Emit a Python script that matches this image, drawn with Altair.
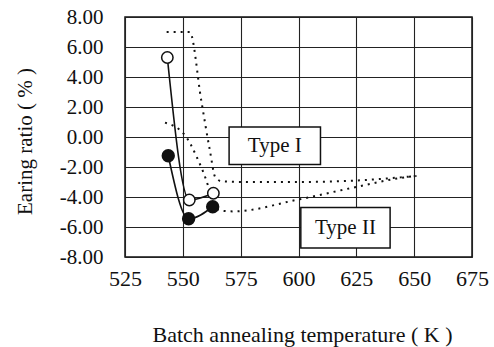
import altair as alt
import pandas as pd

# Solid series (measured points)
open_t = [543.3, 552.8, 563.2]
open_v = [5.3, -4.2, -3.75]
filled_t = [543.7, 552.5, 562.9]
filled_v = [-1.25, -5.45, -4.65]

# Dotted curves
type1_t = [543, 553, 558, 561.7, 564, 567, 580, 600, 625, 651]
type1_v = [7.0, 7.0, 2.4, -0.9, -2.67, -2.96, -3.0, -3.0, -2.9, -2.6]
type2_t = [542.3, 551, 556, 561, 563, 566, 572, 599, 625, 646.8, 651]
type2_v = [0.96, 0.1, -1.33, -3.3, -4.4, -4.9, -4.96, -4.2, -3.33, -2.67, -2.6]

# Label boxes
box_labels = ["Type I", "Type II"]
box_x1 = [570, 601]
box_x2 = [609.5, 639.6]
box_y1 = [0.67, -4.7]
box_y2 = [-1.84, -7.4]

x_ticks = [525, 550, 575, 600, 625, 650, 675]
y_ticks = [-8, -6, -4, -2, 0, 2, 4, 6, 8]

FONT = "Liberation Serif"

xs = alt.Scale(domain=[525, 675], nice=False, zero=False)
ys = alt.Scale(domain=[-8, 8], nice=False, zero=False)

df_open = pd.DataFrame({"t": open_t, "v": open_v})
df_filled = pd.DataFrame({"t": filled_t, "v": filled_v})
df_d1 = pd.DataFrame({"t": type1_t, "v": type1_v})
df_d2 = pd.DataFrame({"t": type2_t, "v": type2_v})
df_box = pd.DataFrame({"label": box_labels, "t": box_x1, "t2": box_x2,
                       "v": box_y1, "v2": box_y2})
df_box["tc"] = (df_box.t + df_box.t2) / 2
df_box["vc"] = (df_box.v + df_box.v2) / 2

xaxis = alt.Axis(values=x_ticks, grid=True, ticks=False, domain=False,
                 labelFont=FONT, labelFontSize=22, labelColor="#111", labelPadding=11,
                 labelOverlap=False,
                 title="Batch annealing temperature ( K )", titleFont=FONT,
                 titleFontSize=22, titleFontWeight="normal", titleColor="#111",
                 titleX=177, titleY=77, titleBaseline="middle", titleAlign="center",
                 gridColor="#222", gridWidth=1.1, gridOpacity=1, labelFlush=False)
yaxis = alt.Axis(values=y_ticks, grid=True, ticks=False, domain=False,
                 labelFont=FONT, labelFontSize=21, labelColor="#111", labelPadding=22,
                 labelOverlap=False,
                 labelExpr="(datum.value < 0 ? '-' : '') + format(abs(datum.value), '.2f')",
                 title="Earing ratio ( % )", titleFont=FONT, titleFontSize=21,
                 titleFontWeight="normal", titleColor="#111",
                 titleX=-100, titleY=124, titleAngle=270, titleBaseline="middle",
                 titleAlign="center",
                 gridColor="#222", gridWidth=1.1, gridOpacity=1, labelFlush=False)

X = alt.X("t:Q", scale=xs, axis=xaxis)
Y = alt.Y("v:Q", scale=ys, axis=yaxis)

dot1 = alt.Chart(df_d1).mark_line(color="#111", strokeDash=[2, 5], strokeWidth=2,
                                  interpolate="monotone").encode(x=X, y=Y)
dot2 = alt.Chart(df_d2).mark_line(color="#111", strokeDash=[2, 5], strokeWidth=2,
                                  interpolate="monotone").encode(x=X, y=Y)

boxes = alt.Chart(df_box).mark_rect(fill="white", stroke="#111", strokeWidth=1.5).encode(
    x=X, x2="t2:Q", y=Y, y2="v2:Q")
box_text = alt.Chart(df_box).mark_text(font=FONT, fontSize=21, color="#111").encode(
    x=alt.X("tc:Q", scale=xs, axis=xaxis), y=alt.Y("vc:Q", scale=ys, axis=yaxis),
    text="label:N")

line_open = alt.Chart(df_open).mark_line(color="#111", strokeWidth=1.6,
                                         interpolate="monotone").encode(x=X, y=Y)
line_filled = alt.Chart(df_filled).mark_line(color="#111", strokeWidth=1.6,
                                             interpolate="monotone").encode(x=X, y=Y)
pts_open = alt.Chart(df_open).mark_point(shape="circle", size=130, filled=True,
                                         fill="white", stroke="#111", strokeWidth=1.5,
                                         opacity=1).encode(x=X, y=Y)
pts_filled = alt.Chart(df_filled).mark_point(shape="circle", size=130, filled=True,
                                             fill="#111", stroke="#111", opacity=1).encode(x=X, y=Y)

chart = alt.layer(dot1, dot2, boxes, box_text, line_open, line_filled,
                  pts_open, pts_filled).properties(
    width=347, height=240,
    autosize=alt.AutoSizeParams(type="none"),
    padding={"left": 125, "top": 17, "right": 22, "bottom": 90},
    background="white",
).configure_view(stroke="#111", strokeWidth=1.5)

chart.save("out.html", embed_options={"renderer": "svg", "actions": False})
